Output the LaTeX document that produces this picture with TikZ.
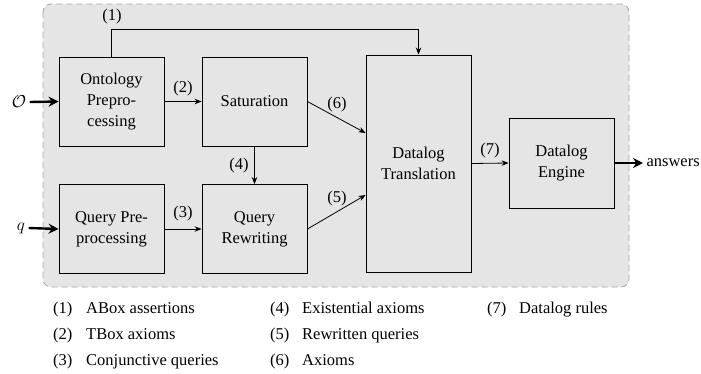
\documentclass[tikz,border=0pt]{standalone}
\usepackage{fontspec}
\setmainfont{Liberation Serif}
\usetikzlibrary{arrows.meta,calc}
\begin{document}
\begin{tikzpicture}[x=1pt,y=-1pt,
  every node/.style={font=\fontsize{16.5}{21}\selectfont},
  box/.style={draw, line width=0.9pt, minimum width=105pt, minimum height=89pt, align=center, inner sep=0pt},
  arr/.style={-{Stealth[length=7pt,width=5.5pt]}, line width=0.8pt},
  big/.style={-{Stealth[length=10pt,width=10pt]}, line width=2.4pt},
  lab/.style={inner sep=0pt}]
\useasboundingbox (0,0) rectangle (701,373);
\draw[dash pattern=on 6pt off 4pt, draw=gray!70, fill=gray!20, rounded corners=8pt, line width=0.8pt] (43,4) rectangle (629,287);
% boxes
\node[box] (onto) at (111.5,101.5) {Ontology\\Prepro-\\cessing};
\node[box] (sat) at (254.5,101.5) {Saturation};
\node[box] (qpre) at (111.5,229) {Query Pre-\\processing};
\node[box] (qrew) at (254.5,229) {Query\\Rewriting};
\node[box, minimum height=217pt] (dtrans) at (418.5,163.5) {Datalog\\Translation};
\node[box, minimum height=90pt] (engine) at (561.5,163) {Datalog\\Engine};
% inputs / outputs
\node (o) at (19,102) {$\mathcal{O}$};
\node (q) at (21,228) {$q$};
\node[anchor=west] (ans) at (643,163) {answers};
\draw[big] (o.east) -- (onto.west);
\draw[big] (q.east) -- (qpre.west);
\draw[big] (engine.east) -- (ans.west);
% connectors
\draw[arr] (onto.north) -- ++(0,-27) coordinate (c1) -| (dtrans.north);
\draw[arr] (onto.east) -- (sat.west);
\draw[arr] (qpre.east) -- (qrew.west);
\draw[arr] (sat.south) -- (qrew.north);
\draw[arr] (sat.east) -- ([yshift=30.5pt]dtrans.west);
\draw[arr] (qrew.east) -- ([yshift=-31.5pt]dtrans.west);
\draw[arr] (dtrans.east) -- (engine.west);
% edge labels
\node[lab] (l1) at (112,17) {(1)};
\node[lab] (l2) at (183,89) {(2)};
\node[lab] (l3) at (183,214) {(3)};
\node[lab] (l4) at (239,166) {(4)};
\node[lab] (l5) at (337,199) {(5)};
\node[lab] (l6) at (337,105) {(6)};
\node[lab] (l7) at (490,151) {(7)};
% legend
\node[lab, anchor=base west] (k1) at (53,313) {(1)};
\node[lab, anchor=base west] (t1) at (86,313) {ABox assertions};
\node[lab, anchor=base west] (k2) at (53,339) {(2)};
\node[lab, anchor=base west] (t2) at (86,339) {TBox axioms};
\node[lab, anchor=base west] (k3) at (53,365) {(3)};
\node[lab, anchor=base west] (t3) at (86,365) {Conjunctive queries};
\node[lab, anchor=base west] (k4) at (270,313) {(4)};
\node[lab, anchor=base west] (t4) at (302,313) {Existential axioms};
\node[lab, anchor=base west] (k5) at (270,339) {(5)};
\node[lab, anchor=base west] (t5) at (302,339) {Rewritten queries};
\node[lab, anchor=base west] (k6) at (270,365) {(6)};
\node[lab, anchor=base west] (t6) at (302,365) {Axioms};
\node[lab, anchor=base west] (k7) at (487,313) {(7)};
\node[lab, anchor=base west] (t7) at (519,313) {Datalog rules};
\end{tikzpicture}
\end{document}
